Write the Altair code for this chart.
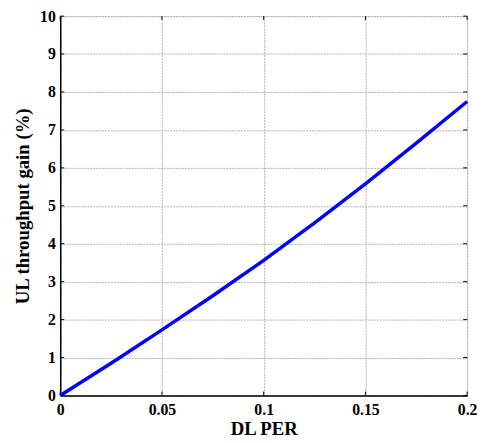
import altair as alt
import pandas as pd

dl_per = [0.0, 0.025, 0.05, 0.075, 0.1, 0.125, 0.15, 0.175, 0.2]
ul_gain = [0.0, 0.85, 1.73, 2.63, 3.56, 4.55, 5.58, 6.65, 7.75]

x_ticks = [0, 0.05, 0.1, 0.15, 0.2]
y_ticks = [0, 1, 2, 3, 4, 5, 6, 7, 8, 9, 10]

df = pd.DataFrame({"x": dl_per, "y": ul_gain})
FONT = "Liberation Serif"
W, H = 413, 385

xs = alt.Scale(domain=[0, 0.2], nice=False, zero=False)
ys = alt.Scale(domain=[0, 10], nice=False)

x_axis = alt.Axis(
    title="DL PER", values=x_ticks, labelExpr="datum.value == 0 ? '0' : format(datum.value, '.2~f')",
    grid=True, gridColor="#b0b0b0", gridDash=[2, 1], gridWidth=1,
    domainColor="black", domainWidth=1.5, ticks=False, labelPadding=6,
    labelFont=FONT, labelFontSize=16, labelFontWeight="bold", labelColor="black",
    titleFont=FONT, titleFontSize=19, titleFontWeight="bold", titleColor="black", titlePadding=3,
    labelFlush=False, labelOverlap=False)
y_axis = alt.Axis(
    title="UL throughput gain (%)", values=y_ticks,
    grid=True, gridColor="#b0b0b0", gridDash=[2, 1], gridWidth=1,
    domainColor="black", domainWidth=1.5, ticks=False, labelPadding=5,
    labelFont=FONT, labelFontSize=16, labelFontWeight="bold", labelColor="black",
    titleFont=FONT, titleFontSize=19, titleFontWeight="bold", titleColor="black", titlePadding=7,
    labelFlush=False, labelOverlap=False)

line = alt.Chart(df).mark_line(color="#0000ff", strokeWidth=3.5).encode(
    x=alt.X("x:Q", scale=xs, axis=x_axis),
    y=alt.Y("y:Q", scale=ys, axis=y_axis),
)

xt = pd.DataFrame({"v": x_ticks})
yt = pd.DataFrame({"v": y_ticks})
xtick_b = alt.Chart(xt).mark_rule(color="black", strokeWidth=1).encode(
    x=alt.X("v:Q", scale=xs, axis=x_axis), y=alt.value(H), y2=alt.value(H - 4))
xtick_t = alt.Chart(xt).mark_rule(color="black", strokeWidth=1).encode(
    x=alt.X("v:Q", scale=xs, axis=x_axis), y=alt.value(0), y2=alt.value(4))
ytick_l = alt.Chart(yt).mark_rule(color="black", strokeWidth=1).encode(
    y=alt.Y("v:Q", scale=ys, axis=y_axis), x=alt.value(0), x2=alt.value(4))
ytick_r = alt.Chart(yt).mark_rule(color="black", strokeWidth=1).encode(
    y=alt.Y("v:Q", scale=ys, axis=y_axis), x=alt.value(W), x2=alt.value(W - 4))

chart = alt.layer(line, xtick_b, xtick_t, ytick_l, ytick_r).properties(
    width=W, height=H,
    autosize=alt.AutoSizeParams(type="none"),
    padding={"left": 53, "top": 5, "right": 10, "bottom": 45},
).configure_view(stroke="black", strokeWidth=1.5).configure(background="white")

chart.save("out.html", embed_options={"renderer": "svg", "actions": False})
